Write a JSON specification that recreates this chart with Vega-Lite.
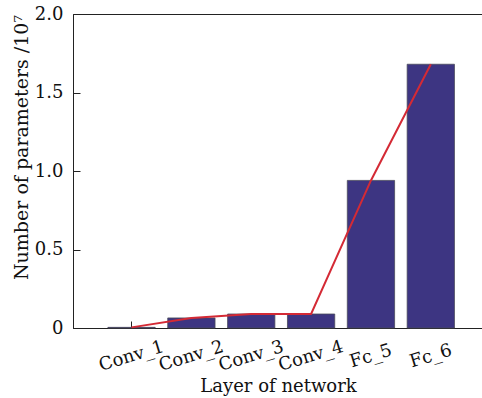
{
  "$schema": "https://vega.github.io/schema/vega-lite/v6.json",
  "width": 410,
  "height": 314,
  "autosize": {"type": "none"},
  "padding": {"left": 73, "top": 14, "right": 0, "bottom": 70},
  "config": {
    "view": {"stroke": "#222222", "strokeWidth": 1},
    "font": "DejaVu Serif",
    "axis": {
      "grid": false,
      "domainColor": "#222222",
      "tickColor": "#222222",
      "labelColor": "#111111",
      "titleColor": "#111111",
      "labelFont": "DejaVu Serif",
      "titleFont": "DejaVu Serif",
      "labelFontSize": 18,
      "titleFontSize": 18,
      "titleFontWeight": "normal"
    }
  },
  "data": {
    "values": [
      {"layer": "Conv_1", "params": 0.004},
      {"layer": "Conv_2", "params": 0.064},
      {"layer": "Conv_3", "params": 0.089},
      {"layer": "Conv_4", "params": 0.089},
      {"layer": "Fc_5", "params": 0.94},
      {"layer": "Fc_6", "params": 1.68}
    ]
  },
  "encoding": {
    "x": {
      "field": "layer",
      "type": "nominal",
      "sort": null,
      "scale": {"paddingInner": 0.21, "paddingOuter": 0.53, "align": 0.55},
      "axis": {
        "title": "Layer of network",
        "labelAngle": -17,
        "labelAlign": "center",
        "labelBaseline": "middle",
        "tickSize": -7,
        "labelPadding": 35,
        "titleY": 58,
        "titleBaseline": "middle"
      }
    },
    "y": {
      "field": "params",
      "type": "quantitative",
      "scale": {"domain": [0, 2], "nice": false},
      "axis": {
        "title": "Number of parameters /10⁷",
        "titleFontSize": 19,
        "values": [0, 0.5, 1, 1.5, 2],
        "labelExpr": "datum.value == 0 ? '0' : format(datum.value, '.1f')",
        "tickSize": -7,
        "labelPadding": 17,
        "titleX": -52,
        "titleY": 133,
        "titleAlign": "center",
        "titleBaseline": "middle",
        "titleAngle": -90
      }
    }
  },
  "layer": [
    {"mark": {"type": "bar", "fill": "#3d3582", "stroke": "#4a4a5a", "strokeWidth": 0.8}},
    {"mark": {"type": "line", "color": "#d42a35", "strokeWidth": 2}}
  ]
}
